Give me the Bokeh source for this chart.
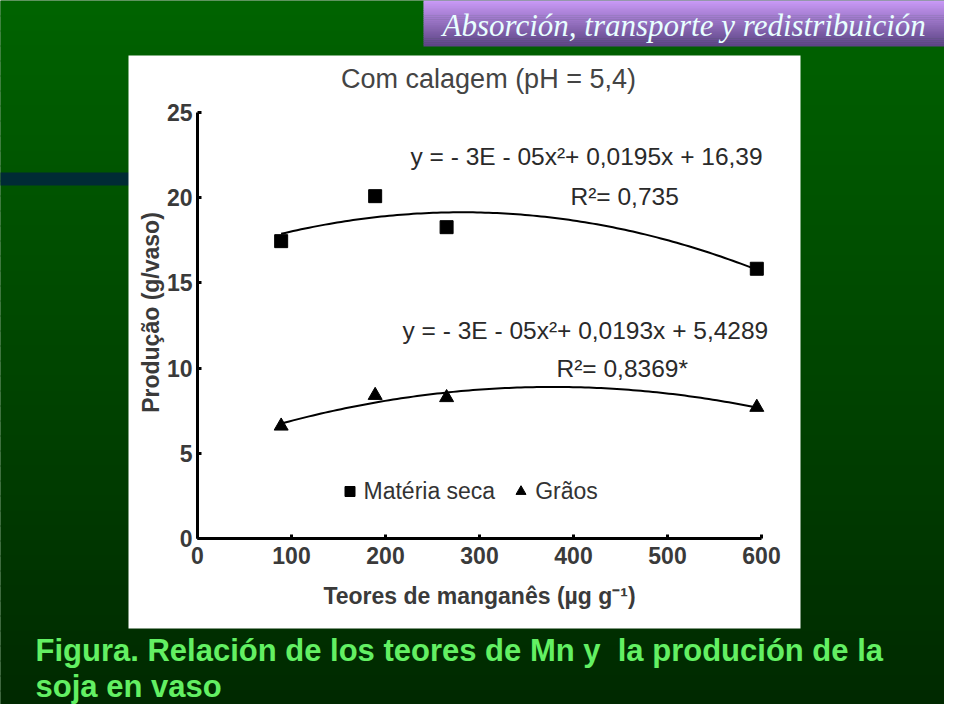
import numpy as np
from bokeh.plotting import figure
from bokeh.models import Range1d, FixedTicker, Label, Legend, LegendItem
from bokeh.embed import file_html
from bokeh.resources import INLINE

# ---------------- data ----------------
mn_levels = [89, 189, 265, 595]                 # Teores de manganês (µg g-1)
materia_seca = [17.45, 20.09, 18.27, 15.83]    # Produção (g/vaso)
graos = [6.6, 8.4, 8.27, 7.7]                  # Produção (g/vaso)
x_ticks = [0, 100, 200, 300, 400, 500, 600]
y_ticks = [0, 5, 10, 15, 20, 25]
eq_ms = "y = - 3E - 05x²+ 0,0195x + 16,39"
r2_ms = "R²=  0,735"
eq_gr = "y = - 3E - 05x²+ 0,0193x + 5,4289"
r2_gr = "R²= 0,8369*"

# ---------------- layout: slide pixels -> data coordinates ----------------
X0, XS = 197.0, 0.94     # slide px of x=0, px per unit
Y0, YS = 538.0, 17.04    # slide px of y=0, px per unit
W, H = 944, 704
def dx(px): return (px - X0) / XS
def dy(py): return (Y0 - py) / YS

p = figure(width=W, height=H, output_backend="svg", toolbar_location=None, tools="",
           x_range=Range1d(dx(0), dx(W)), y_range=Range1d(dy(H), dy(0)),
           min_border=0, outline_line_color=None, background_fill_color="#004a00",
           border_fill_color="#004a00")
p.grid.visible = False

# slide background gradient (decoration)
n = 48
edges = np.linspace(0, 720, n + 1)
top_c = np.array([0, 100, 0]); bot_c = np.array([0, 40, 0])
cols = []
for i in range(n):
    t = (edges[i] + edges[i + 1]) / 2 / 720
    c = (top_c * (1 - t) + bot_c * t).astype(int)
    cols.append("#%02x%02x%02x" % tuple(c))
p.quad(left=dx(-10), right=dx(970), top=[dy(e) for e in edges[:-1]],
       bottom=[dy(e + 1) for e in edges[1:]], fill_color=cols, line_color=None)
# dark bar at left
p.quad(left=dx(-10), right=dx(130), top=dy(172), bottom=dy(185), fill_color="#002b35", line_color=None)
# white chart panel
p.quad(left=dx(128), right=dx(800), top=dy(55), bottom=dy(628), fill_color="white", line_color=None)

# title box gradient
m = 24
tedges = np.linspace(0, 46, m + 1)
tt = np.array([204, 156, 250]); tb = np.array([92, 68, 132])
tcols = []
for i in range(m):
    t = (tedges[i] + tedges[i + 1]) / 2 / 46
    c = (tt * (1 - t) + tb * t).astype(int)
    tcols.append("#%02x%02x%02x" % tuple(c))
p.quad(left=dx(423), right=dx(970), top=[dy(e - 0.5) for e in tedges[:-1]],
       bottom=[dy(e) for e in tedges[1:]], fill_color=tcols, line_color=None)
p.add_layout(Label(x=dx(442), y=dy(25), text="Absorción, transporte y redistribuición",
                   text_font="Liberation Serif", text_font_style="italic",
                   text_font_size="31px", text_color="#e8ffff", text_baseline="middle"))

# ---------------- data marks ----------------
xs = np.array(mn_levels, dtype=float)
xf = np.linspace(xs.min(), xs.max(), 120)
c_ms = np.polyfit(xs, materia_seca, 2)
c_gr = np.polyfit(xs, graos, 2)
p.line(xf, np.polyval(c_ms, xf), line_color="black", line_width=2)
p.line(xf, np.polyval(c_gr, xf), line_color="black", line_width=2)
r_sq = p.scatter(mn_levels, materia_seca, marker="square", size=13, fill_color="black", line_color="black")
r_tr = p.scatter(mn_levels, graos, marker="triangle", size=14, fill_color="black", line_color="black")

# ---------------- axes ----------------
for ax in (p.xaxis, p.yaxis):
    ax.fixed_location = 0
    ax.axis_line_width = 3
    ax.axis_line_color = "black"
    ax.major_tick_in = 4
    ax.major_tick_out = 0
    ax.major_tick_line_width = 3
    ax.minor_tick_line_color = None
    ax.major_label_text_font = "Liberation Sans"
    ax.major_label_text_font_style = "bold"
    ax.major_label_text_font_size = "23px"
    ax.major_label_text_color = "#3a3a3a"
p.xaxis.major_label_standoff = 8
p.yaxis.major_label_standoff = 5
p.xaxis.ticker = FixedTicker(ticks=x_ticks)
p.yaxis.ticker = FixedTicker(ticks=y_ticks)
p.xaxis.bounds = (x_ticks[0], x_ticks[-1])
p.yaxis.bounds = (y_ticks[0], y_ticks[-1])
p.xaxis.axis_label = "Teores de manganês (µg g⁻¹)"
p.xaxis.axis_label_text_font = "Liberation Sans"
p.xaxis.axis_label_text_font_style = "bold"
p.xaxis.axis_label_text_font_size = "23px"
p.xaxis.axis_label_text_color = "#3a3a3a"
p.xaxis.axis_label_standoff = 16

p.add_layout(Label(x=dx(150.5), y=dy(312), angle=np.pi / 2, text="Produção (g/vaso)",
                   text_align="center", text_baseline="middle", text_font="Liberation Sans",
                   text_font_style="bold", text_font_size="23px", text_color="#3a3a3a"))

# chart title and equations
p.add_layout(Label(x=dx(488), y=dy(78), text="Com calagem (pH = 5,4)", text_align="center",
                   text_baseline="middle", text_font="Liberation Sans",
                   text_font_size="27px", text_color="#444444"))
for txt, px, py in [(eq_ms, 410, 156), (r2_ms, 570, 196), (eq_gr, 402, 330), (r2_gr, 556, 368)]:
    p.add_layout(Label(x=dx(px), y=dy(py), text=txt, text_baseline="middle",
                       text_font="Liberation Sans", text_font_size="24.5px", text_color="#2a2a2a"))

# legend
legend = Legend(items=[LegendItem(label="Matéria seca", renderers=[r_sq]),
                       LegendItem(label="Grãos", renderers=[r_tr])],
                orientation="horizontal", location=(336.5, H - 505),
                glyph_width=25, glyph_height=28, label_height=28, label_standoff=2,
                spacing=13, padding=0, margin=0, border_line_color=None,
                background_fill_alpha=0, label_text_font="Liberation Sans",
                label_text_font_size="23px", label_text_color="#333333")
p.add_layout(legend)

# caption
for txt, py in [("Figura. Relación de los teores de Mn y\u00a0 la produción de la", 650),
                ("soja en vaso", 685.5)]:
    p.add_layout(Label(x=dx(35), y=dy(py), text=txt, text_baseline="middle",
                       text_font="Liberation Sans", text_font_style="bold",
                       text_font_size="31px", text_color="#63f063"))

open("out.html", "w").write(file_html(p, INLINE))
